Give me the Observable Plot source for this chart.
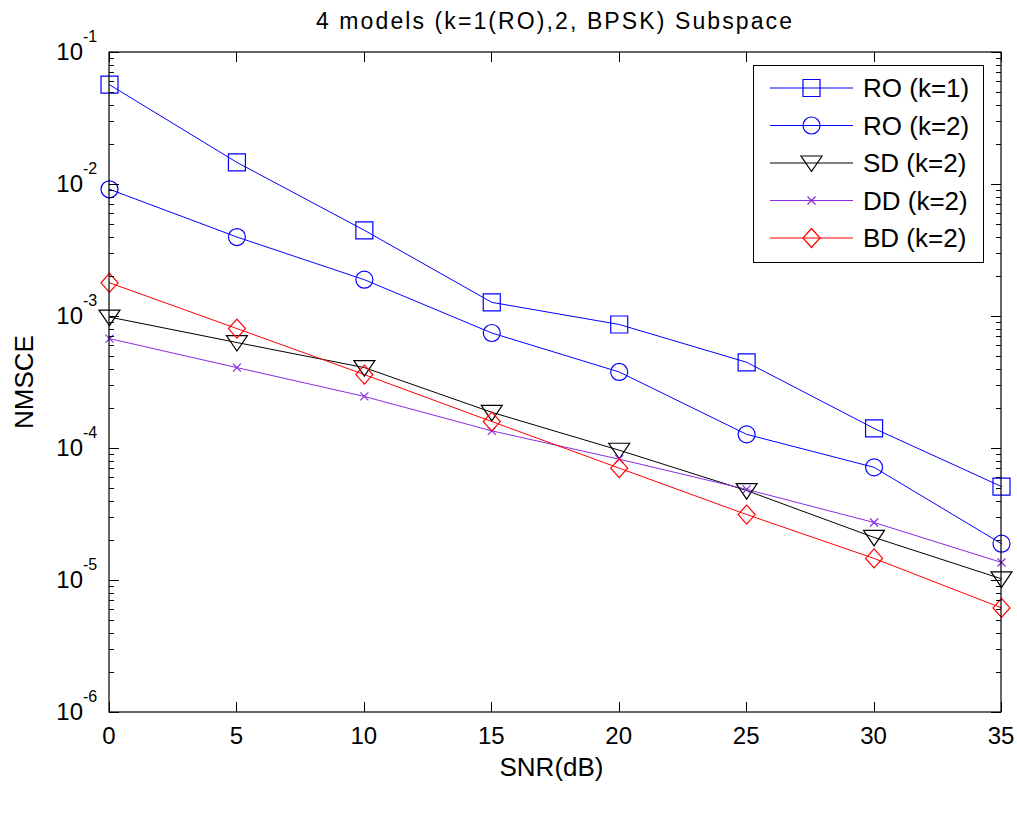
<!DOCTYPE html>
<html>
<head>
<meta charset="utf-8">
<script src="https://cdn.jsdelivr.net/npm/d3@7"></script>
<script src="https://cdn.jsdelivr.net/npm/@observablehq/plot@0.6"></script>
<style>
  html, body { margin: 0; padding: 0; background: #fff; }
  svg { display: block; }
</style>
</head>
<body>
<div id="chart"></div>
<script>
// ---- data ----
const snr = [0, 5, 10, 15, 20, 25, 30, 35];
const ro1 = [0.057, 0.0147, 0.0045, 0.00128, 0.00087, 0.00045, 0.000142, 5.15e-5];
const ro2 = [0.0092, 0.0040, 0.0019, 0.00075, 0.00038, 0.000128, 7.2e-5, 1.9e-5];
const sd  = [0.00099, 0.000635, 0.00041, 0.000188, 9.7e-5, 4.8e-5, 2.12e-5, 1.03e-5];
const dd  = [0.00068, 0.00041, 0.000248, 0.000136, 8.3e-5, 4.9e-5, 2.75e-5, 1.37e-5];
const bd  = [0.0018, 0.00081, 0.000363, 0.00016, 7.1e-5, 3.16e-5, 1.47e-5, 6.2e-6];

const seriesNames = ["RO (k=1)", "RO (k=2)", "SD (k=2)", "DD (k=2)", "BD (k=2)"];
const seriesValues = [ro1, ro2, sd, dd, bd];
const seriesColors = ["#0000ff", "#0000ff", "#000000", "#8a2be2", "#ff0000"];

const xTicks = [0, 5, 10, 15, 20, 25, 30, 35];
const yExponents = [-6, -5, -4, -3, -2, -1];
const titleText = "4 models (k=1(RO),2, BPSK) Subspace";
const xLabel = "SNR(dB)";
const yLabel = "NMSCE";

const FONT = "'Liberation Sans', Arial, Helvetica, sans-serif";

// ---- marker symbols ----
const symSquare = { draw(c) { const h = 8.5; c.moveTo(-h, -h); c.lineTo(h, -h); c.lineTo(h, h); c.lineTo(-h, h); c.closePath(); } };
const symCircle = { draw(c) { const r = 8.5; c.moveTo(r, 0); c.arc(0, 0, r, 0, 2 * Math.PI); c.closePath(); } };
const symTriDown = { draw(c) { c.moveTo(-10.5, -7); c.lineTo(10.5, -7); c.lineTo(0, 8.5); c.closePath(); } };
const symTimes = { draw(c) { const h = 4; c.moveTo(-h, -h); c.lineTo(h, h); c.moveTo(h, -h); c.lineTo(-h, h); } };
const symDiamond = { draw(c) { c.moveTo(0, -9.5); c.lineTo(8.5, 0); c.lineTo(0, 9.5); c.lineTo(-8.5, 0); c.closePath(); } };
const seriesSymbols = [symSquare, symCircle, symTriDown, symTimes, symDiamond];

const tables = seriesValues.map(vals => snr.map((x, i) => ({ x, y: vals[i] })));

// ---- axes, frame, labels, legend (drawn with the plot's scales) ----
function decorations(index, scales, values, dims) {
  const x = scales.x, y = scales.y;
  const L = dims.marginLeft, R = dims.width - dims.marginRight;
  const T = dims.marginTop, B = dims.height - dims.marginBottom;
  const g = d3.create("svg:g").attr("font-family", FONT).attr("fill", "#000");

  // ticks
  const tk = g.append("g").attr("stroke", "#000").attr("stroke-width", 1);
  for (const t of xTicks) {
    const px = Math.round(x(t)) + 0.5;
    tk.append("line").attr("x1", px).attr("x2", px).attr("y1", B).attr("y2", B - 10);
    tk.append("line").attr("x1", px).attr("x2", px).attr("y1", T).attr("y2", T + 10);
    g.append("text").attr("x", x(t)).attr("y", B + 32).attr("text-anchor", "middle")
      .attr("font-size", 24).text(String(t));
  }
  for (const e of yExponents) {
    const py = Math.round(y(10 ** e)) + 0.5;
    tk.append("line").attr("x1", L).attr("x2", L + 10).attr("y1", py).attr("y2", py);
    tk.append("line").attr("x1", R).attr("x2", R - 10).attr("y1", py).attr("y2", py);
    g.append("text").attr("x", L - 26).attr("y", y(10 ** e) + 8).attr("text-anchor", "end")
      .attr("font-size", 24).text("10");
    g.append("text").attr("x", L - 26).attr("y", y(10 ** e) - 10).attr("text-anchor", "start")
      .attr("font-size", 16).text(String(e));
    if (e < -1) {
      for (let m = 2; m <= 9; m++) {
        const pm = Math.round(y(m * 10 ** e)) + 0.5;
        tk.append("line").attr("x1", L).attr("x2", L + 5).attr("y1", pm).attr("y2", pm);
        tk.append("line").attr("x1", R).attr("x2", R - 5).attr("y1", pm).attr("y2", pm);
      }
    }
  }
  // frame
  g.append("rect").attr("x", L).attr("y", T).attr("width", R - L).attr("height", B - T)
    .attr("fill", "none").attr("stroke", "#000").attr("stroke-width", 1.2);

  // title and axis labels
  g.append("text").attr("x", (L + R) / 2).attr("y", 29).attr("text-anchor", "middle")
    .attr("font-size", 23).attr("letter-spacing", 2.1).text(titleText);
  g.append("text").attr("x", 551.5).attr("y", 776).attr("text-anchor", "middle")
    .attr("font-size", 26).text(xLabel);
  g.append("text").attr("transform", `translate(33,${(T + B) / 2}) rotate(-90)`)
    .attr("text-anchor", "middle").attr("font-size", 26).text(yLabel);

  // legend
  const lg = g.append("g");
  const bx = 753, by = 65, bw = 230, bh = 197;
  lg.append("rect").attr("x", bx + 0.5).attr("y", by + 0.5).attr("width", bw).attr("height", bh)
    .attr("fill", "#fff").attr("stroke", "#000").attr("stroke-width", 1);
  seriesNames.forEach((name, i) => {
    const ry = 88 + i * 37.5;
    lg.append("line").attr("x1", 770).attr("x2", 853).attr("y1", ry).attr("y2", ry)
      .attr("stroke", seriesColors[i]).attr("stroke-width", 1);
    const p = d3.path();
    seriesSymbols[i].draw(p, 0);
    lg.append("path").attr("d", p.toString()).attr("transform", `translate(811.5,${ry})`)
      .attr("fill", "none").attr("stroke", seriesColors[i]).attr("stroke-width", 1.2);
    lg.append("text").attr("x", 863).attr("y", ry + 9).attr("text-anchor", "start")
      .attr("font-size", 26).text(name);
  });
  return g.node();
}

const marks = [];
tables.forEach((tbl, i) => {
  marks.push(Plot.line(tbl, { x: "x", y: "y", stroke: seriesColors[i], strokeWidth: 1 }));
});
tables.forEach((tbl, i) => {
  marks.push(Plot.dot(tbl, { x: "x", y: "y", symbol: seriesSymbols[i], r: 8,
    stroke: seriesColors[i], fill: "none", strokeWidth: 1.2 }));
});
marks.push(decorations);

const chart = Plot.plot({
  width: 1017,
  height: 827,
  marginLeft: 109,
  marginRight: 16,
  marginTop: 52,
  marginBottom: 115,
  style: { background: "#fff", fontFamily: FONT },
  x: { domain: [0, 35], axis: null },
  y: { type: "log", domain: [1e-6, 1e-1], axis: null },
  marks
});
document.getElementById("chart").appendChild(chart);
</script>
</body>
</html>
